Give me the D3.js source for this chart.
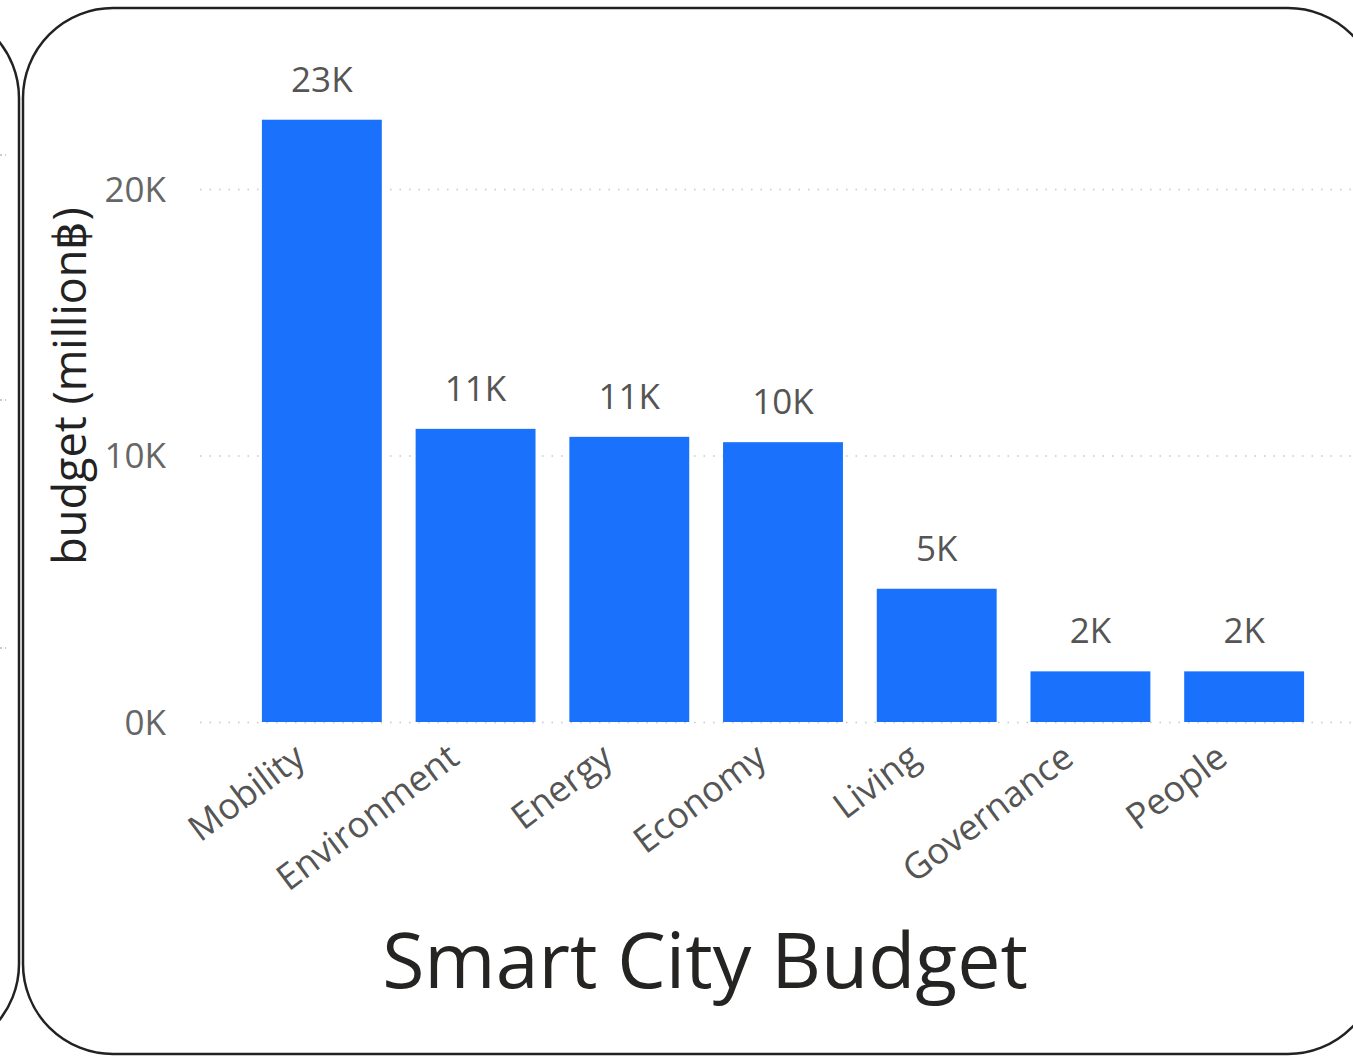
<!DOCTYPE html>
<html>
<head>
<meta charset="utf-8">
<script src="https://cdn.jsdelivr.net/npm/d3@7"></script>
<style>
  body { margin: 0; background: #fff; }
  text { font-family: "Open Sans", "Noto Sans", sans-serif; }
</style>
</head>
<body>
<script>
// data
var categories = ["Mobility", "Environment", "Energy", "Economy", "Living", "Governance", "People"]
var budget     = [22600, 11000, 10700, 10500, 5000, 1900, 1900]
var labels     = ["23K", "11K", "11K", "10K", "5K", "2K", "2K"]
var yTicks     = [0, 10000, 20000]

var W = 1353, H = 1057

var svg = d3.select("body").append("svg")
    .attr("width", W).attr("height", H)

// ---- panel frames ----
// neighbour panel, only its right edge shows
svg.append("rect")
    .attr("x", -400).attr("y", 8).attr("width", 419).attr("height", 1046)
    .attr("rx", 90).attr("ry", 90)
    .attr("fill", "none").attr("stroke", "#222").attr("stroke-width", 2.5)
// this panel
svg.append("rect")
    .attr("x", 23).attr("y", 8).attr("width", 1355).attr("height", 1046)
    .attr("rx", 90).attr("ry", 90)
    .attr("fill", "none").attr("stroke", "#222").attr("stroke-width", 2.5)

// stray grid ends of the neighbour panel
svg.selectAll(".stub").data([155, 400, 648]).enter().append("line")
    .attr("x1", 0).attr("x2", 6).attr("y1", function(d){ return d }).attr("y2", function(d){ return d })
    .attr("stroke", "#bbb").attr("stroke-width", 1.5).attr("stroke-dasharray", "2 3")

// ---- scales ----
var x = d3.scaleBand()
    .domain(categories)
    .range([245, 1321])
    .paddingInner(0.22)
    .paddingOuter(0.11)

var y = d3.scaleLinear()
    .domain([0, 20000])
    .range([722, 189])

// grid
var grid = svg.append("g")
    .call(d3.axisLeft(y).tickValues(yTicks).tickSize(-(W - 200)).tickFormat(""))
    .attr("transform", "translate(200,0)")
grid.select(".domain").remove()
grid.selectAll("line")
    .attr("stroke", "#c8c8c8").attr("stroke-width", 1.5).attr("stroke-dasharray", "1.5 8")

// y axis labels
var yAxis = svg.append("g")
    .attr("transform", "translate(166,0)")
    .call(d3.axisLeft(y).tickValues(yTicks).tickSize(0).tickPadding(0)
        .tickFormat(function(d){ return (d / 1000) + "K" }))
yAxis.select(".domain").remove()
yAxis.selectAll("text")
    .attr("font-family", "Open Sans, sans-serif")
    .attr("font-size", 35).attr("fill", "#666").attr("dy", "0.35em")

// y title
svg.append("text")
    .attr("transform", "translate(86,386) rotate(-90)")
    .attr("text-anchor", "middle")
    .attr("font-size", 45).attr("fill", "#222")
    .text("budget (million\u0e3f)")

// bars
svg.selectAll(".bar").data(budget).enter().append("rect")
    .attr("class", "bar")
    .attr("x", function(d, i){ return x(categories[i]) })
    .attr("width", x.bandwidth())
    .attr("y", function(d){ return y(d) })
    .attr("height", function(d){ return y(0) - y(d) })
    .attr("fill", "#1a72fc")

// data labels
svg.selectAll(".lbl").data(budget).enter().append("text")
    .attr("x", function(d, i){ return x(categories[i]) + x.bandwidth() / 2 })
    .attr("y", function(d){ return y(d) - 28 })
    .attr("text-anchor", "middle")
    .attr("font-size", 35).attr("fill", "#555")
    .text(function(d, i){ return labels[i] })

// x axis labels
var xAxis = svg.append("g")
    .attr("transform", "translate(0,722)")
    .call(d3.axisBottom(x).tickSize(0).tickPadding(0))
xAxis.select(".domain").remove()
xAxis.selectAll("text")
    .attr("font-family", "Open Sans, sans-serif")
    .attr("font-size", 36).attr("fill", "#555")
    .attr("text-anchor", "end")
    .attr("transform", "translate(-22,30) rotate(-37)")
    .attr("dy", "0.35em")

// chart title
svg.append("text")
    .attr("x", 705).attr("y", 988)
    .attr("text-anchor", "middle")
    .attr("font-size", 77).attr("fill", "#252423")
    .text("Smart City Budget")
</script>
</body>
</html>
